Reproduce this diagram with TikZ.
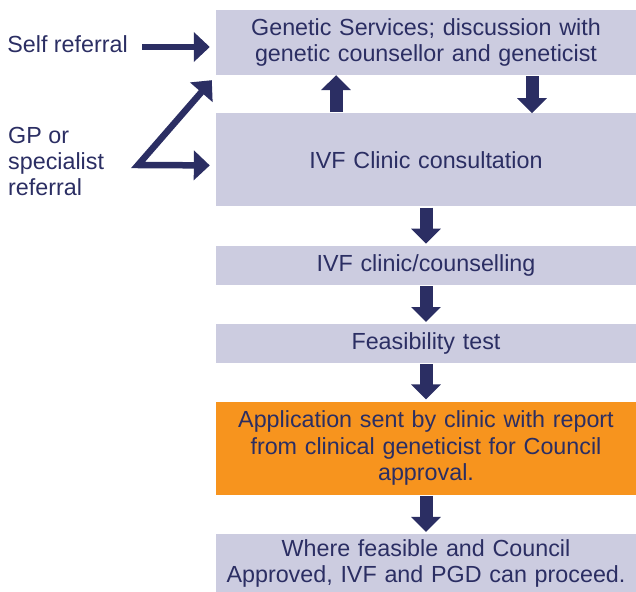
\documentclass[tikz,border=0pt]{standalone}
\usepackage{fontspec}
\setmainfont{Liberation Sans}
\usepackage{xcolor}
\definecolor{colorBox}{RGB}{204,204,224}
\definecolor{colorStep}{RGB}{247,148,30}
\definecolor{colorArrow}{RGB}{43,46,99}
\usetikzlibrary{arrows.meta, positioning}
\tikzset{box/.style={fill=colorBox, text=colorArrow, minimum width=420pt, text width=410pt, inner sep=5pt, align=center, font=\fontsize{23.3}{26.5}\selectfont}, lbl/.style={text=colorArrow, inner sep=0pt, align=left, font=\fontsize{23.3}{26}\selectfont}, refarrow/.style={colorArrow, line width=6.5pt, line join=miter, {Triangle[width=29pt,length=16pt]}-{Triangle[width=29pt,length=16pt]}}}

\begin{document}
\begin{tikzpicture}[>={Triangle[width=29pt,length=15pt]}, node distance=38pt, every path/.style={}]
\useasboundingbox (0,0) rectangle (636pt,-591pt);
\node[box, minimum height=65pt] (b0) at (426pt,-42.5pt) {Genetic Services; discussion with\\genetic counsellor and geneticist};
\node[box, minimum height=93pt, below=38pt of b0] (b1) {IVF Clinic consultation};
\node[box, minimum height=39pt, below=39pt of b1] (b2) {IVF clinic/counselling};
\node[box, minimum height=39pt, below=39pt of b2] (b3) {Feasibility test};
\node[box, minimum height=93pt, below=38pt of b3, fill=colorStep] (b4) {Application sent by clinic with report\\from clinical geneticist for Council\\approval.};
\node[box, minimum height=59pt, below=39pt of b4] (b5) {Where feasible and Council\\Approved, IVF and PGD can proceed.};
\node[lbl, anchor=east] (self) at (128pt,-44pt) {Self referral};
\node[lbl, anchor=west] (gp) at (8pt,-161pt) {GP or\\specialist\\referral};
\coordinate (fork) at (138pt,-165pt);
\draw [->, colorArrow, line width=13pt, shorten <=1pt] ([xshift=-90pt]b1.north) -- ([xshift=-90pt]b0.south);
\draw [->, colorArrow, line width=13pt, shorten <=1pt] ([xshift=106pt]b0.south) -- ([xshift=106pt]b1.north);
\foreach \a/\b in {b1/b2, b2/b3, b3/b4, b4/b5}
  \draw [->, colorArrow, line width=13pt, shorten <=1pt, shorten >=2pt] (\a.south) -- (\b.north);
\draw [refarrow, {}-{Triangle[width=29pt,length=16pt]}] ([xshift=14pt,yshift=-3pt]self.east) -- ([xshift=-6pt,yshift=-4.5pt]b0.west);
\draw [refarrow] ([shift={(-4pt,-5pt)}]b0.south west) -- (fork) -- ([xshift=-6pt,yshift=-5.5pt]b1.west);
\end{tikzpicture}
\end{document}
